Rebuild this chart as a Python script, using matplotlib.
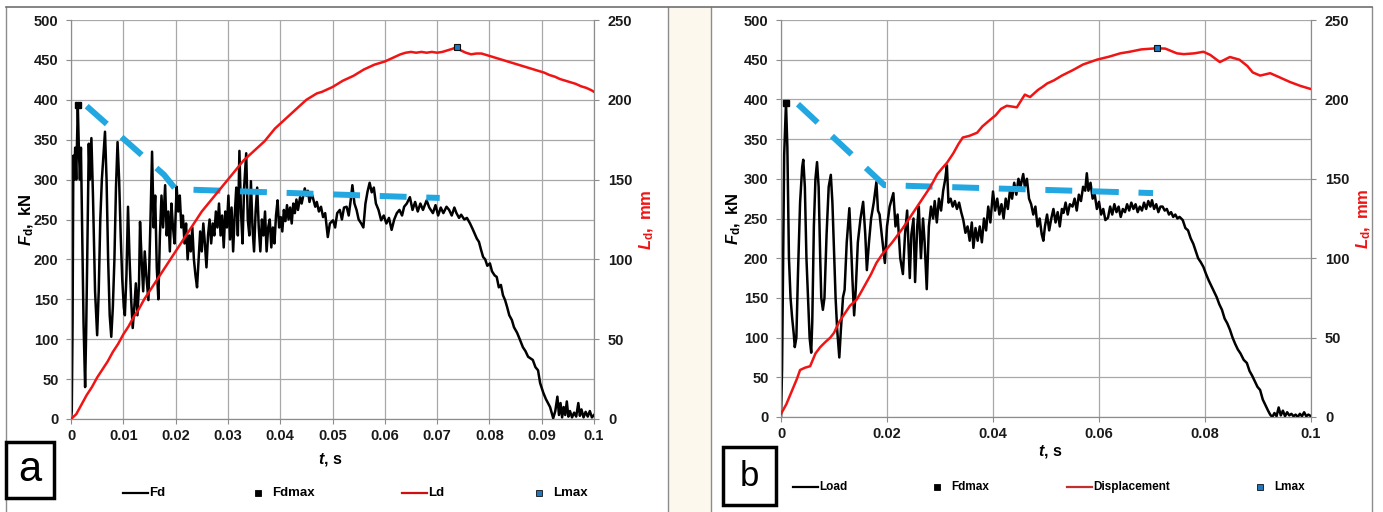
import matplotlib
matplotlib.use("Agg")
import matplotlib.pyplot as plt
import numpy as np
from matplotlib.patches import Rectangle
from matplotlib.lines import Line2D
from matplotlib.font_manager import FontProperties

plt.rcParams['font.family'] = ['Liberation Sans', 'DejaVu Sans']
plt.rcParams['font.weight'] = 'bold'
plt.rcParams['mathtext.fontset'] = 'custom'
plt.rcParams['mathtext.it'] = 'Liberation Sans:italic:bold'
plt.rcParams['mathtext.rm'] = 'Liberation Sans:bold'

# ---- panel a: force Fd (t in ms, kN) ----
fd_a = [
    (0.0, 0), (0.15, 10), (0.3, 120), (0.45, 330), (0.6, 300), (0.8, 340), (1.0, 300), (1.3, 393),
    (1.5, 340), (1.7, 300), (1.9, 340), (2.1, 250), (2.4, 120), (2.7, 40), (2.9, 110), (3.1, 200),
    (3.4, 345), (3.6, 300), (3.9, 352), (4.2, 280), (4.6, 160), (5.0, 105), (5.3, 160), (5.6, 250),
    (5.9, 300), (6.2, 330), (6.5, 360), (6.8, 300), (7.1, 200), (7.4, 130), (7.7, 103), (8.0, 140),
    (8.3, 200), (8.6, 290), (8.9, 347), (9.2, 300), (9.5, 230), (9.8, 175), (10.1, 140), (10.3, 130),
    (10.6, 180), (10.9, 266), (11.2, 200), (11.5, 150), (11.8, 114), (12.1, 140), (12.4, 170),
    (12.7, 130), (13.0, 168), (13.2, 247), (13.5, 200), (13.8, 160), (14.1, 210), (14.4, 180),
    (14.8, 149), (15.2, 250), (15.5, 335), (15.8, 240), (16.1, 280), (16.4, 190), (16.7, 150),
    (17.0, 230), (17.3, 280), (17.6, 240), (18.0, 293), (18.3, 230), (18.6, 260), (18.9, 210),
    (19.2, 270), (19.5, 240), (19.8, 220), (20.2, 291), (20.5, 260), (20.8, 280), (21.1, 240),
    (21.4, 255), (21.7, 220), (22.0, 245), (22.3, 200), (22.6, 230), (22.9, 210), (23.2, 240),
    (23.5, 200), (23.8, 180), (24.1, 165), (24.4, 200), (24.7, 235), (25.0, 210), (25.3, 245),
    (25.6, 220), (25.9, 190), (26.2, 230), (26.5, 250), (26.8, 220), (27.1, 245), (27.4, 230),
    (27.7, 260), (28.0, 240), (28.3, 270), (28.6, 230), (28.9, 255), (29.2, 215), (29.5, 260),
    (29.8, 240), (30.1, 280), (30.4, 225), (30.7, 265), (31.0, 210), (31.3, 255), (31.6, 290),
    (31.9, 230), (32.2, 336), (32.5, 260), (32.8, 220), (33.1, 290), (33.5, 333), (33.8, 250),
    (34.1, 230), (34.4, 298), (34.7, 240), (35.0, 210), (35.3, 260), (35.6, 290), (35.9, 240),
    (36.2, 210), (36.5, 250), (36.8, 230), (37.1, 260), (37.4, 210), (37.7, 240), (38.0, 250),
    (38.3, 215), (38.6, 240), (38.9, 220), (39.2, 255), (39.5, 274), (39.8, 240), (40.1, 253),
    (40.4, 235), (40.7, 262), (41.0, 248), (41.3, 268), (41.6, 250), (41.9, 265), (42.2, 245),
    (42.5, 270), (42.8, 258), (43.1, 275), (43.4, 262), (43.8, 278), (44.1, 270), (44.7, 289),
    (45.0, 280), (45.3, 286), (45.6, 272), (46.0, 283), (46.3, 276), (46.7, 266), (47.0, 272),
    (47.4, 260), (47.8, 266), (48.2, 253), (48.6, 258), (49.1, 228), (49.5, 245), (50.1, 249),
    (50.5, 240), (50.9, 258), (51.4, 262), (51.8, 250), (52.2, 265), (52.7, 266), (53.1, 255),
    (53.5, 275), (53.8, 293), (54.2, 270), (54.6, 262), (55.0, 250), (55.5, 245), (55.9, 240),
    (56.3, 270), (56.7, 285), (57.1, 296), (57.5, 284), (57.9, 290), (58.3, 270), (58.8, 262),
    (59.3, 249), (59.8, 255), (60.3, 245), (60.8, 252), (61.3, 237), (61.8, 250), (62.3, 258),
    (62.8, 262), (63.3, 255), (63.7, 266), (64.2, 270), (64.8, 278), (65.3, 262), (65.8, 272),
    (66.3, 260), (66.8, 270), (67.3, 262), (68.0, 274), (68.5, 265), (69.2, 258), (69.7, 268),
    (70.2, 255), (70.7, 265), (71.2, 258), (71.8, 266), (72.3, 262), (72.8, 255), (73.3, 265),
    (73.7, 258), (74.2, 252), (74.6, 256), (75.2, 250), (75.7, 252), (76.3, 245), (76.8, 238),
    (77.2, 232), (77.6, 226), (78.0, 222), (78.4, 212), (78.8, 203), (79.2, 200), (79.6, 192),
    (80.1, 195), (80.5, 185), (81.0, 180), (81.4, 178), (81.8, 165), (82.2, 168), (82.6, 155),
    (83.0, 149), (83.4, 140), (83.8, 130), (84.3, 124), (84.7, 115), (85.3, 108), (85.8, 100),
    (86.4, 90), (86.9, 85), (87.4, 78), (88.3, 74), (88.8, 65), (89.3, 61), (89.7, 45), (90.3, 33),
    (90.8, 25), (91.6, 15), (92.2, 1), (92.6, 10), (93.0, 28), (93.3, 5), (93.6, 20), (93.9, 2),
    (94.2, 15), (94.5, 5), (94.8, 22), (95.1, 3), (95.4, 10), (95.8, 2), (96.2, 8), (96.6, 3),
    (97.0, 20), (97.3, 4), (97.6, 12), (98.0, 2), (98.4, 9), (98.8, 3), (99.2, 10), (99.6, 2),
    (100.0, 5),
]

# ---- panel a: displacement Ld (t in ms, mm) ----
ld_a = [
    (0, 0), (1, 3), (2, 9), (3, 15), (4, 20), (5, 26), (6, 31), (7, 36), (8, 42), (9, 47),
    (10, 53), (11, 58), (12, 64), (13, 69), (14, 75), (15, 80), (16, 85), (17, 90), (18, 95),
    (19, 100), (20, 105), (21, 110), (22, 115), (23, 120), (24, 125), (25, 130), (26, 134),
    (27, 138), (28, 142), (29, 146), (30, 150), (31, 154), (32, 158), (33, 162), (34, 165),
    (35, 168), (36, 171), (37, 174), (38, 178), (39, 182), (40, 185), (41, 188), (42, 191),
    (43, 194), (44, 197), (45, 200), (46, 202), (47, 204), (48, 205), (49, 206.5), (50, 208),
    (51, 210), (52, 212), (53, 213.5), (54, 215), (55, 217), (56, 219), (57, 220.5), (58, 222),
    (59, 223), (60, 224), (61, 225.5), (62, 227), (63, 228.5), (64, 229.5), (65, 230),
    (66, 229.5), (67, 230), (68, 229.5), (69, 230), (70, 229.5), (71, 230), (72, 231), (73, 232),
    (73.8, 233.3), (74.5, 231), (75.5, 229.5), (76.5, 228.5), (77.5, 229), (78.5, 229),
    (79.5, 228), (80.5, 227), (81.5, 226), (82.5, 225), (83.5, 224), (84.5, 223), (85.5, 222),
    (86.5, 221), (87.5, 220), (88.5, 219), (89.5, 218), (90.5, 217), (91.5, 215.5), (92.5, 214.5),
    (93.5, 213), (94.5, 212), (95.5, 211), (96.5, 210), (97.5, 208.5), (98.5, 207.5), (99.5, 206),
    (100, 205),
]

# ---- panel b: load (t in ms, kN) ----
fd_b = [
    (0.0, 0), (0.2, 60), (0.4, 200), (0.6, 330), (0.94, 396), (1.2, 340), (1.5, 200), (1.8, 150),
    (2.1, 125), (2.4, 105), (2.6, 88), (2.9, 100), (3.2, 180), (3.6, 270), (4.0, 315), (4.2, 324),
    (4.5, 290), (4.8, 200), (5.1, 150), (5.4, 100), (5.7, 81), (5.9, 120), (6.2, 240), (6.5, 300),
    (6.8, 321), (7.1, 290), (7.4, 200), (7.6, 150), (7.9, 135), (8.2, 150), (8.6, 230), (9.0, 290),
    (9.4, 305), (9.7, 270), (10.0, 210), (10.3, 150), (10.6, 110), (11.0, 75), (11.3, 110),
    (11.7, 151), (12.0, 160), (12.4, 220), (12.9, 263), (13.2, 220), (13.5, 170), (13.8, 128),
    (14.1, 160), (14.5, 220), (15.0, 250), (15.5, 271), (15.9, 230), (16.2, 185), (16.6, 220),
    (17.0, 250), (17.5, 270), (18.0, 296), (18.3, 260), (18.6, 255), (19.0, 230), (19.6, 194),
    (20.0, 240), (20.5, 265), (21.2, 282), (21.6, 240), (22.0, 255), (22.5, 200), (23.0, 180),
    (23.4, 230), (23.8, 260), (24.3, 175), (24.6, 230), (25.0, 250), (25.3, 170), (25.7, 240),
    (26.0, 265), (26.4, 200), (26.8, 250), (27.1, 220), (27.5, 161), (27.9, 240), (28.3, 265),
    (28.7, 250), (29.0, 272), (29.4, 245), (29.8, 275), (30.2, 260), (30.6, 285), (31.0, 300),
    (31.3, 317), (31.6, 270), (32.0, 275), (32.4, 265), (32.8, 272), (33.2, 262), (33.6, 270),
    (34.0, 258), (34.4, 248), (34.8, 232), (35.2, 240), (35.6, 222), (36.0, 245), (36.3, 213),
    (36.7, 238), (37.1, 222), (37.5, 240), (37.9, 220), (38.3, 250), (38.7, 235), (39.1, 265),
    (39.5, 245), (40.0, 284), (40.4, 260), (40.8, 275), (41.2, 255), (41.6, 268), (42.0, 250),
    (42.4, 275), (42.8, 262), (43.2, 285), (43.6, 275), (44.0, 295), (44.4, 280), (44.8, 300),
    (45.2, 290), (45.7, 306), (46.0, 290), (46.4, 300), (46.8, 275), (47.2, 268), (47.6, 255),
    (48.0, 265), (48.4, 240), (48.8, 250), (49.2, 230), (49.5, 222), (49.8, 240), (50.2, 255),
    (50.6, 235), (51.0, 250), (51.4, 262), (51.8, 245), (52.2, 258), (52.6, 240), (53.0, 262),
    (53.3, 257), (53.7, 270), (54.1, 255), (54.5, 268), (55.0, 265), (55.4, 275), (55.8, 260),
    (56.2, 280), (56.6, 272), (57.0, 290), (57.4, 285), (57.7, 307), (58.0, 285), (58.4, 295),
    (58.8, 275), (59.2, 280), (59.6, 262), (60.0, 271), (60.4, 255), (60.8, 262), (61.2, 248),
    (61.7, 251), (62.1, 265), (62.5, 255), (62.9, 268), (63.3, 258), (63.7, 265), (64.1, 252),
    (64.5, 262), (64.9, 258), (65.3, 268), (65.7, 260), (66.1, 270), (66.5, 262), (66.9, 268),
    (67.3, 258), (67.7, 265), (68.1, 260), (68.5, 270), (68.9, 262), (69.3, 272), (69.7, 265),
    (70.0, 273), (70.4, 262), (70.8, 268), (71.2, 258), (71.6, 265), (72.0, 265), (72.4, 260),
    (72.8, 262), (73.2, 255), (73.6, 258), (74.0, 252), (74.4, 255), (74.8, 250), (75.2, 252),
    (75.8, 248), (76.3, 238), (76.8, 235), (77.3, 225), (77.8, 218), (78.2, 210), (78.7, 200),
    (79.2, 195), (79.7, 189), (80.2, 180), (80.7, 172), (81.2, 165), (81.7, 158), (82.2, 151),
    (82.7, 142), (83.2, 135), (83.7, 124), (84.2, 118), (84.7, 110), (85.2, 100), (85.7, 92),
    (86.2, 85), (86.7, 80), (87.3, 72), (87.9, 68), (88.4, 58), (88.9, 52), (89.4, 45), (89.9, 38),
    (90.4, 34), (90.9, 22), (91.4, 15), (91.9, 8), (92.3, 3), (92.7, 0), (93.1, 5), (93.5, 1),
    (93.9, 12), (94.3, 2), (94.7, 8), (95.1, 1), (95.5, 6), (95.9, 2), (96.3, 4), (96.7, 1),
    (97.1, 3), (97.5, 0), (97.9, 4), (98.3, 1), (98.7, 6), (99.1, 1), (99.5, 3), (100.0, 1),
]

# ---- panel b: displacement (t in ms, mm) ----
ld_b = [
    (0, 2), (1, 8), (2, 16), (3, 24), (3.6, 29.6), (4.5, 31), (5.5, 32), (6.5, 40), (7.4, 44),
    (8.3, 47), (9.3, 50), (10, 53), (11, 60), (12, 65), (13, 70), (14.3, 74), (15, 78), (16, 84),
    (17, 90), (18, 97), (19, 102), (20, 106), (21, 110), (22, 114.5), (23, 119), (24, 124),
    (25, 129), (26, 134), (27, 139), (28, 144), (28.7, 148), (29.5, 153), (30.5, 157),
    (31.3, 160), (32.5, 166), (33.5, 172), (34.3, 176), (35.5, 177), (37, 179), (38, 183),
    (39.4, 187), (40.5, 190), (41.5, 194), (42.6, 196), (44.5, 195), (46, 203), (47, 201.5),
    (48.5, 206), (49.4, 208), (50.2, 210), (51.5, 212), (53, 215), (55.1, 218.5), (57, 222),
    (59.6, 225), (62, 227), (64, 229), (65.8, 230), (68, 231.5), (70.9, 232.2), (72.5, 232),
    (74.7, 229), (76, 228.5), (78, 229), (79.7, 230), (81, 228), (82.8, 223.5), (84.7, 226.7),
    (86.5, 225), (88, 221), (89, 217), (90.4, 215), (92.3, 216.5), (94, 214), (96, 211),
    (98, 208.5), (100, 206.5),
]

# dashed trend lines (t in ms, kN)
trend_a = [(3.0, 392), (17.8, 306), (20.0, 288), (70.5, 277)]
trend_b = [(3.2, 394), (19.5, 292), (70.2, 282)]

# peak markers
fdmax_a = (1.34, 393)
lmax_a = (73.8, 233.3)
fdmax_b = (0.94, 396)
lmax_b = (70.9, 232.2)

RED = '#F01414'
BLUE = '#22A7E0'
GRID = '#A8A8A8'
W, H = 1383, 512
TICKFONT = FontProperties(family='Liberation Sans', weight='bold', size=10.5)

fig = plt.figure(figsize=(W / 100, H / 100), dpi=100)


def fx(x):
    return x / W


def fy(y):
    return 1 - y / H


# panel backgrounds / frames
fig.add_artist(Rectangle((fx(668), 0), fx(711) - fx(668), fy(7), transform=fig.transFigure,
                         facecolor='#FCF8EE', edgecolor='none', zorder=0))
for x in (6, 668, 711, 1372):
    fig.add_artist(Line2D([fx(x), fx(x)], [0, fy(7)], transform=fig.transFigure,
                          color='#8C8C8C', lw=1.0))
fig.add_artist(Line2D([fx(6), fx(1372)], [fy(7), fy(7)], transform=fig.transFigure,
                      color='#707070', lw=1.2))


def xy(pairs):
    a = np.array(pairs, dtype=float)
    return a[:, 0] / 1000.0, a[:, 1]


def panel(rect, fd, ld, trend, fdmax, lmax, xstep, xticklabels, ylab_x, rlab_x, xlab_pos):
    ax = fig.add_axes(rect)
    ax2 = ax.twinx()
    ax.set_xlim(0, 0.1)
    ax.set_ylim(0, 500)
    ax2.set_ylim(0, 250)
    yt = np.arange(0, 501, 50)
    yt2 = np.arange(0, 251, 50)
    ax.tick_params(axis='both', direction='out', length=3.5, color='#8C8C8C',
                   labelcolor='#1A1A1A')
    ax.tick_params(axis='y', pad=5.5)
    ax.tick_params(axis='x', pad=4)
    ax2.tick_params(axis='y', direction='out', length=3.5, color='#8C8C8C',
                    labelcolor='#1A1A1A', pad=6.5)
    ax.set_xticks(np.arange(0, 0.1001, xstep), labels=xticklabels, fontproperties=TICKFONT)
    ax.set_yticks(yt, labels=[str(v) for v in yt], fontproperties=TICKFONT)
    ax2.set_yticks(yt2, labels=[str(v) for v in yt2], fontproperties=TICKFONT)
    ax.grid(True, color=GRID, lw=0.9)
    ax.set_axisbelow(True)
    for a in (ax, ax2):
        a.spines['top'].set_visible(False)
        for s in ('left', 'right', 'bottom'):
            a.spines[s].set_color('#8C8C8C')

    t, f = xy(fd)
    ax.plot(t, f, color='black', lw=1.8, zorder=3)
    tt, tf = xy(trend)
    ax.plot(tt, tf, color=BLUE, lw=4.3, dashes=(4.5, 3.3), solid_capstyle='butt',
            dash_capstyle='butt', zorder=4)
    ax.plot([fdmax[0] / 1000], [fdmax[1]], 's', color='black', ms=5, zorder=5)
    t2, l2 = xy(ld)
    ax2.plot(t2, l2, color=RED, lw=1.8, zorder=3)
    ax2.plot([lmax[0] / 1000], [lmax[1]], 's', color='#1F77C0', mec='#111111', mew=0.8, ms=5,
             zorder=5)

    ax.set_ylabel(r'$F_{\mathrm{d}}\mathrm{,\ kN}$', fontsize=12)
    ax.yaxis.set_label_coords(ylab_x, 0.5)
    ax2.set_ylabel(r'$L_{\mathrm{d}}\mathrm{,\ mm}$', fontsize=12, color=RED)
    ax2.yaxis.set_label_coords(rlab_x, 0.5)
    ax.set_xlabel(r'$t\mathrm{,\,s}$', fontsize=11.5)
    ax.xaxis.set_label_coords(*xlab_pos)
    return ax


panel([fx(71), fy(419), fx(594) - fx(71), fy(20) - fy(419)], fd_a, ld_a, trend_a, fdmax_a,
      lmax_a, 0.01, ['0', '0.01', '0.02', '0.03', '0.04', '0.05', '0.06', '0.07', '0.08',
                     '0.09', '0.1'],
      -0.067, 1.084, (0.497, -0.080))
panel([fx(781), fy(417), fx(1311) - fx(781), fy(20) - fy(417)], fd_b, ld_b, trend_b, fdmax_b,
      lmax_b, 0.02, ['0', '0.02', '0.04', '0.06', '0.08', '0.1'],
      -0.072, 1.083, (0.508, -0.065))


# hand-placed legends, Excel style
def leg_line(x0, y, color, label, size):
    fig.add_artist(Line2D([fx(x0), fx(x0 + 25)], [fy(y), fy(y)], transform=fig.transFigure,
                          color=color, lw=1.6))
    fig.text(fx(x0 + 26), fy(y), label, fontsize=size, va='center', ha='left')


def leg_mark(x0, y, color, label, size, edge):
    fig.add_artist(Line2D([fx(x0)], [fy(y)], transform=fig.transFigure, marker='s', ms=4.5,
                          color=color, mec=edge, mew=0.6, lw=0))
    fig.text(fx(x0 + 14), fy(y), label, fontsize=size, va='center', ha='left')


leg_line(123, 493, 'black', 'Fd', 9.5)
leg_mark(258, 493, 'black', 'Fdmax', 9.5, 'black')
leg_line(402, 493, '#D01010', 'Ld', 9.5)
leg_mark(539, 493, '#1F77C0', 'Lmax', 9.5, '#111111')

leg_line(793, 487, 'black', 'Load', 8.5)
leg_mark(937, 487, 'black', 'Fdmax', 8.5, 'black')
leg_line(1067, 487, '#C03030', 'Displacement', 8.5)
leg_mark(1260, 487, '#1F77C0', 'Lmax', 8.5, '#111111')

# panel letters
for (x0, y0, x1, y1, letter, size) in [(6, 442, 54, 498, 'a', 30), (723, 447, 776, 505, 'b', 25)]:
    fig.add_artist(Rectangle((fx(x0), fy(y1)), fx(x1) - fx(x0), fy(y0) - fy(y1),
                             transform=fig.transFigure, facecolor='white', edgecolor='black',
                             lw=2.5, zorder=5))
    fig.text(fx((x0 + x1) / 2), fy((y0 + y1) / 2), letter, fontsize=size, fontweight='normal',
             ha='center', va='center', zorder=6)

fig.savefig('out.png', dpi=100)
